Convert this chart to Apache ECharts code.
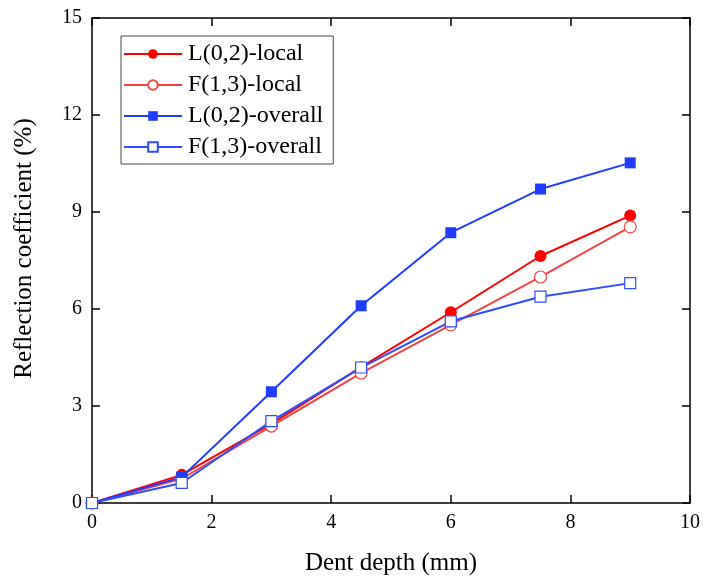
<!DOCTYPE html>
<html>
<head>
<meta charset="utf-8">
<script src="https://cdn.jsdelivr.net/npm/echarts@6/dist/echarts.min.js"></script>
<style>
  html, body { margin: 0; padding: 0; background: #fff; }
  #chart { width: 704px; height: 579px; }
</style>
</head>
<body>
<div id="chart"></div>
<script>
// Dent depth (mm) and reflection coefficients (%) for each mode
const dentDepth = [0, 1.5, 3, 4.5, 6, 7.5, 9];
const l02Local = [0, 0.87, 2.45, 4.2, 5.9, 7.64, 8.89];
const f13Local = [0, 0.75, 2.38, 4.02, 5.51, 6.99, 8.54];
const l02Overall = [0, 0.8, 3.44, 6.1, 8.36, 9.71, 10.52];
const f13Overall = [0, 0.62, 2.53, 4.19, 5.62, 6.38, 6.8];

const seriesNames = ['L(0,2)-local', 'F(1,3)-local', 'L(0,2)-overall', 'F(1,3)-overall'];

const FONT = '"Liberation Serif", "Times New Roman", serif';

function pairs(ys) {
  return dentDepth.map((x, i) => [x, ys[i]]);
}

function makeSeries(name, ys, color, symbol, filled) {
  return {
    name: name,
    type: 'line',
    data: pairs(ys),
    symbol: symbol,
    symbolSize: symbol === 'circle' ? 12 : 11,
    showAllSymbol: true,
    lineStyle: { color: color, width: 2 },
    itemStyle: {
      color: filled ? color : '#ffffff',
      borderColor: color,
      borderWidth: filled ? 0 : 1.2
    },
    emphasis: { disabled: true },
    animation: false
  };
}

const chart = echarts.init(document.getElementById('chart'));

// Top and right frame edges with inward ticks, no labels
const mirrorAxis = {
  axisLine: { show: true, onZero: false, lineStyle: { color: '#000', width: 1.5 } },
  axisTick: { show: true, inside: true, length: 8, lineStyle: { color: '#000', width: 1.5 } },
  axisLabel: { show: false },
  splitLine: { show: false }
};

chart.setOption({
  backgroundColor: '#ffffff',
  animation: false,
  grid: { left: 92, right: 14, top: 18, bottom: 76, containLabel: false, outerBoundsMode: 'none' },
  legend: {
    data: seriesNames,
    orient: 'vertical',
    left: 121,
    top: 36,
    padding: [6, 10, 5, 2],
    itemWidth: 58,
    itemHeight: 12,
    itemGap: 7,
    borderColor: '#444',
    borderWidth: 1,
    textStyle: { fontFamily: FONT, fontSize: 24, lineHeight: 24, color: '#000', padding: [0, 0, 0, 1] }
  },
  xAxis: [
    {
      type: 'value',
      min: 0, max: 10, interval: 2,
      name: 'Dent depth (mm)',
      nameLocation: 'middle',
      nameGap: 48,
      nameTextStyle: { fontFamily: FONT, fontSize: 25, color: '#000' },
      axisLine: { show: true, onZero: false, lineStyle: { color: '#000', width: 1.5 } },
      axisTick: { show: true, inside: true, length: 8, lineStyle: { color: '#000', width: 1.5 } },
      axisLabel: { fontFamily: FONT, fontSize: 20, color: '#000', margin: 10 },
      splitLine: { show: false }
    },
    Object.assign({ type: 'value', position: 'top', min: 0, max: 10, interval: 2 }, mirrorAxis)
  ],
  yAxis: [
    {
      type: 'value',
      min: 0, max: 15, interval: 3,
      name: 'Reflection coefficient (%)',
      nameLocation: 'middle',
      nameGap: 55,
      nameTextStyle: { fontFamily: FONT, fontSize: 25, color: '#000', padding: [0, 0, 0, 24] },
      axisLine: { show: true, onZero: false, lineStyle: { color: '#000', width: 1.5 } },
      axisTick: { show: true, inside: true, length: 8, lineStyle: { color: '#000', width: 1.5 } },
      axisLabel: { fontFamily: FONT, fontSize: 20, color: '#000', margin: 10 },
      splitLine: { show: false }
    },
    Object.assign({ type: 'value', position: 'right', min: 0, max: 15, interval: 3 }, mirrorAxis)
  ],
  series: [
    makeSeries(seriesNames[0], l02Local, '#ff0000', 'circle', true),
    makeSeries(seriesNames[1], f13Local, '#f04444', 'circle', false),
    makeSeries(seriesNames[2], l02Overall, '#1f3cff', 'rect', true),
    makeSeries(seriesNames[3], f13Overall, '#2e4cff', 'rect', false)
  ]
});
</script>
</body>
</html>
